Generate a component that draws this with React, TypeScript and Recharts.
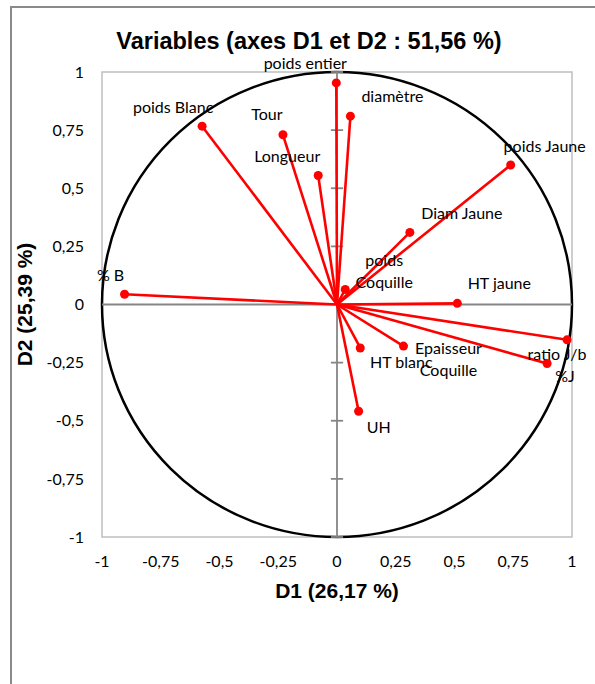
import {
  ScatterChart,
  Scatter,
  XAxis,
  YAxis,
  ReferenceLine,
  ReferenceArea,
} from "recharts";

// variables (cercle des corrélations)
const names = [
  "poids entier",
  "diamètre",
  "poids Blanc",
  "Tour",
  "Longueur",
  "poids Jaune",
  "Diam Jaune",
  "poids Coquille",
  "HT jaune",
  "ratio J/b",
  "%J",
  "Epaisseur Coquille",
  "HT blanc",
  "UH",
  "% B",
];
const d1 = [-0.003, 0.057, -0.574, -0.23, -0.08, 0.739, 0.31, 0.035, 0.512, 0.979, 0.894, 0.283, 0.099, 0.092, -0.904];
const d2 = [0.953, 0.81, 0.767, 0.73, 0.555, 0.6, 0.31, 0.065, 0.005, -0.152, -0.254, -0.179, -0.187, -0.459, 0.044];

const ticks = [-1, -0.75, -0.5, -0.25, 0, 0.25, 0.5, 0.75, 1];

// label placement relative to the marker (px)
const labelPos: { [k: string]: { dx: number; dy: number; wrap?: boolean } } = {
  "poids entier": { dx: -31, dy: -20 },
  "diamètre": { dx: 42, dy: -21 },
  "poids Blanc": { dx: -29, dy: -20 },
  "Tour": { dx: -16, dy: -21 },
  "Longueur": { dx: -31, dy: -20 },
  "poids Jaune": { dx: 34, dy: -20 },
  "Diam Jaune": { dx: 52, dy: -20 },
  "poids Coquille": { dx: 39, dy: -19, wrap: true },
  "HT jaune": { dx: 42, dy: -21 },
  "ratio J/b": { dx: -10, dy: 14 },
  "%J": { dx: 18, dy: 12 },
  "Epaisseur Coquille": { dx: 45, dy: 12, wrap: true },
  "HT blanc": { dx: 41, dy: 14 },
  "UH": { dx: 20, dy: 15 },
  "% B": { dx: -14, dy: -20 },
};

const data = names.map((name, i) => ({ name, x: d1[i], y: d2[i] }));

const RED = "#FF0000";
const labelFont = "Lato, 'Open Sans', sans-serif";
const fmt = (v: number) => String(v).replace(".", ",");

const VarPoint = (props: any) => {
  const { cx, cy, payload } = props;
  const pos = labelPos[payload.name] || { dx: 0, dy: -18 };
  const lines = pos.wrap ? payload.name.split(" ") : [payload.name];
  const lh = 22;
  const y0 = cy + pos.dy - ((lines.length - 1) * lh) / 2;
  return (
    <g>
      <circle cx={cx} cy={cy} r={4.5} fill={RED} />
      {lines.map((l: string, i: number) => (
        <text
          key={i}
          x={cx + pos.dx}
          y={y0 + i * lh}
          textAnchor="middle"
          dominantBaseline="central"
          fontFamily={labelFont}
          fontSize={16}
          fill="#000"
        >
          {l}
        </text>
      ))}
    </g>
  );
};

const UnitCircle = (props: any) => {
  const { x, y, width, height } = props;
  return (
    <ellipse
      cx={x + width / 2}
      cy={y + height / 2}
      rx={width / 2}
      ry={height / 2}
      fill="none"
      stroke="#000"
      strokeWidth={2.5}
    />
  );
};

export default function App() {
  return (
    <div
      style={{
        position: "fixed",
        left: 0,
        top: 0,
        width: 595,
        height: 684,
        overflow: "hidden",
        background: "#fff",
      }}
    >
      <div
        style={{
          position: "absolute",
          left: 10,
          top: 6,
          width: 700,
          height: 800,
          borderTop: "2px solid #8a8a8a",
          borderLeft: "2px solid #8a8a8a",
        }}
      />
      <div
        style={{
          position: "absolute",
          left: 0,
          width: 618,
          top: 28,
          textAlign: "center",
          fontFamily: "'Liberation Sans', Arial, sans-serif",
          fontWeight: "bold",
          fontSize: 23.5,
          lineHeight: "26px",
          whiteSpace: "nowrap",
        }}
      >
        Variables (axes D1 et D2 : 51,56 %)
      </div>
      <div style={{ position: "absolute", left: 0, top: 0 }}>
        <ScatterChart
          width={595}
          height={684}
          margin={{ top: 72, right: 23, bottom: 67, left: 0 }}
        >
          <XAxis
            type="number"
            dataKey="x"
            domain={[-1, 1]}
            ticks={ticks}
            tickFormatter={fmt}
            axisLine={false}
            tickLine={false}
            tickMargin={13}
            height={80}
            tick={{ fill: "#000", fontSize: 16, fontFamily: labelFont }}
            label={{
              value: "D1 (26,17 %)",
              position: "insideTop",
              offset: 46,
              style: {
                fill: "#000",
                fontSize: 21,
                fontWeight: "bold",
                fontFamily: "'Liberation Sans', Arial, sans-serif",
              },
            }}
          />
          <YAxis
            type="number"
            dataKey="y"
            domain={[-1, 1]}
            ticks={ticks}
            tickFormatter={fmt}
            axisLine={false}
            tickLine={false}
            tickMargin={12}
            width={102}
            tick={{ fill: "#000", fontSize: 16, fontFamily: labelFont }}
            label={{
              value: "D2 (25,39 %)",
              angle: -90,
              position: "insideLeft",
              offset: 25,
              style: {
                fill: "#000",
                fontSize: 21,
                fontWeight: "bold",
                textAnchor: "middle",
                fontFamily: "'Liberation Sans', Arial, sans-serif",
              },
            }}
          />
          <ReferenceArea
            x1={-1}
            x2={1}
            y1={-1}
            y2={1}
            fill="none"
            stroke="#bfbfbf"
            strokeWidth={1.5}
          />
          <ReferenceLine x={0} stroke="#868686" strokeWidth={1.8} />
          <ReferenceLine y={0} stroke="#868686" strokeWidth={1.8} />
          {ticks
            .filter((t) => t !== 0)
            .map((t) => (
              <ReferenceLine
                key={"t" + t}
                segment={[
                  { x: -0.026, y: t },
                  { x: 0.026, y: t },
                ]}
                stroke="#868686"
                strokeWidth={1.8}
              />
            ))}
          {data.map((p) => (
            <ReferenceLine
              key={"v" + p.name}
              segment={[
                { x: 0, y: 0 },
                { x: p.x, y: p.y },
              ]}
              stroke={RED}
              strokeWidth={2.6}
            />
          ))}
          <Scatter data={data} shape={VarPoint} isAnimationActive={false} />
          <ReferenceArea
            x1={-1}
            x2={1}
            y1={-1}
            y2={1}
            shape={UnitCircle}
          />
        </ScatterChart>
      </div>
    </div>
  );
}
